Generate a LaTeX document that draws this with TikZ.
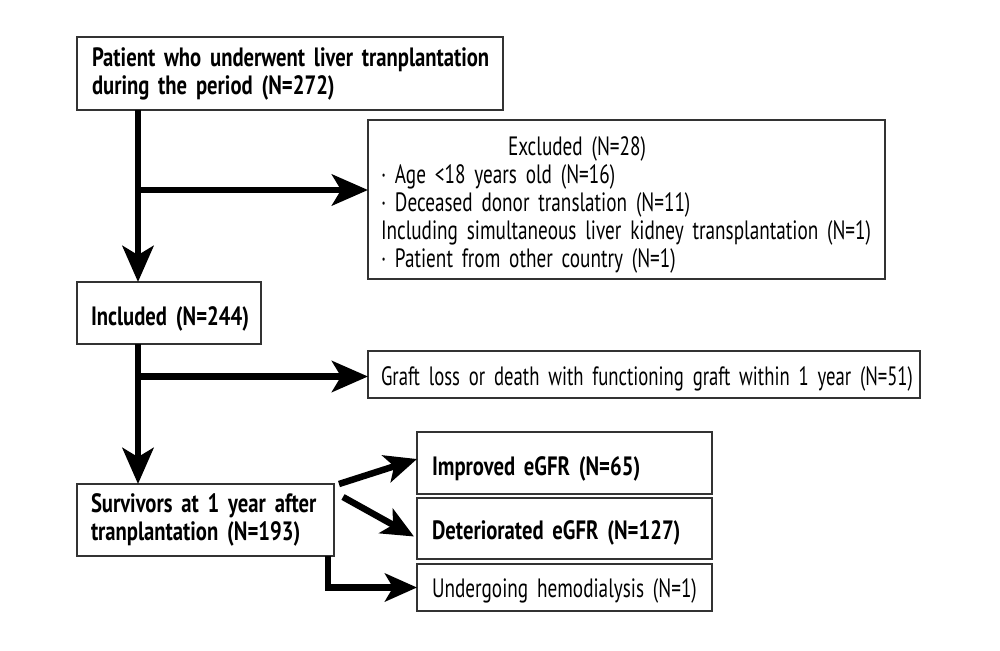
\documentclass[tikz,border=0pt]{standalone}
\usepackage{fontspec}
\setmainfont{PT Sans}[FakeStretch=0.725, WordSpace=0.65, BoldFeatures={FakeStretch=0.78}]
\newfontfamily\graftfont{PT Sans}[FakeStretch=0.705, WordSpace=0.65]
\usetikzlibrary{arrows.meta}
\definecolor{boxline}{HTML}{333333}
\begin{document}
\begin{tikzpicture}[x=1pt,y=-1pt,
  box/.style={draw=boxline, line width=1.8pt, anchor=north west, inner ysep=0pt,
    outer sep=0pt, align=left, font=\fontsize{26.5}{28}\selectfont},
  boldbox/.style={box, font=\fontsize{26.5}{28}\selectfont\bfseries},
  flow/.style={line width=6.5pt, -{Stealth[length=36pt,width=31pt,inset=9pt]}},
  flowsmall/.style={line width=6.5pt, -{Stealth[length=32pt,width=28pt,inset=8pt]}}]
\useasboundingbox (0,0) rectangle (1000,650);

\node[boldbox, inner xsep=15pt, text width=396pt, minimum height=73pt] (top) at (77,37)
  {\mbox{Patient who underwent liver tranplantation}\\\mbox{during the period (N=272)}};
\node[box, inner xsep=13pt, text width=491pt, minimum height=159pt] (excl) at (368,120)
  {\mbox{\rule{0pt}{30pt}\hspace*{127pt}Excluded (N=28)}\\
   \mbox{· Age <18 years old (N=16)}\\
   \mbox{· Deceased donor translation (N=11)}\\
   \mbox{Including simultaneous liver kidney transplantation (N=1)}\\
   \mbox{· Patient from other country (N=1)}};
\node[boldbox, inner xsep=14pt, text width=156pt, minimum height=62pt,
  text height=28.5pt, text depth=3pt] (incl) at (77,282)
  {\mbox{Included (N=244)}};
\node[box, inner xsep=13pt, text width=526pt, minimum height=47pt,
  text height=25.5pt, text depth=3pt, font=\fontsize{26.5}{28}\graftfont] (graft) at (368,351)
  {\mbox{Graft loss or death with functioning graft within 1 year (N=51)}};
\node[boldbox, inner xsep=14pt, text width=229pt, minimum height=72pt] (surv) at (77,484)
  {\mbox{Survivors at 1 year after}\\\mbox{tranplantation (N=193)}};
\node[boldbox, inner xsep=15pt, text width=265pt, minimum height=62pt,
  text height=27.5pt, text depth=3pt] (impr) at (417,432)
  {\mbox{Improved eGFR (N=65)}};
\node[boldbox, inner xsep=15pt, text width=265pt, minimum height=61pt,
  text height=24.5pt, text depth=3pt] (det) at (417,498)
  {\mbox{Deteriorated eGFR (N=127)}};
\node[box, inner xsep=15pt, text width=265pt, minimum height=47pt,
  text height=23.5pt, text depth=3pt] (und) at (417,564)
  {\mbox{Undergoing hemodialysis (N=1)}};

\coordinate (j1) at ([xshift=61pt]top.south west);
\coordinate (j2) at ([xshift=61pt]incl.north west);
\coordinate (j3) at ([xshift=61pt]incl.south west);
\coordinate (j4) at ([xshift=61pt]surv.north west);
\coordinate (exin) at ([yshift=9.5pt]excl.west);
\coordinate (grin) at ([yshift=-2pt]graft.west);
\coordinate (d1s) at ([xshift=5pt]surv.north east);
\coordinate (d1e) at ([yshift=4pt]impr.west);
\coordinate (d2s) at ([xshift=9pt,yshift=-13pt]surv.north east);
\coordinate (d2e) at ([xshift=-3pt,yshift=-8pt]det.west);
\coordinate (e1) at ([xshift=-6pt]surv.south east);

\draw[flow] (j1) -- (j2);
\draw[flow] (j1 |- exin) -- (exin);
\draw[flow] (j3) -- (j4);
\draw[flow] (j3 |- grin) -- (grin);
\draw[flowsmall] (d1s) -- (d1e);
\draw[flowsmall] (d2s) -- (d2e);
\draw[flowsmall] (e1) |- (und.west);
\end{tikzpicture}
\end{document}
